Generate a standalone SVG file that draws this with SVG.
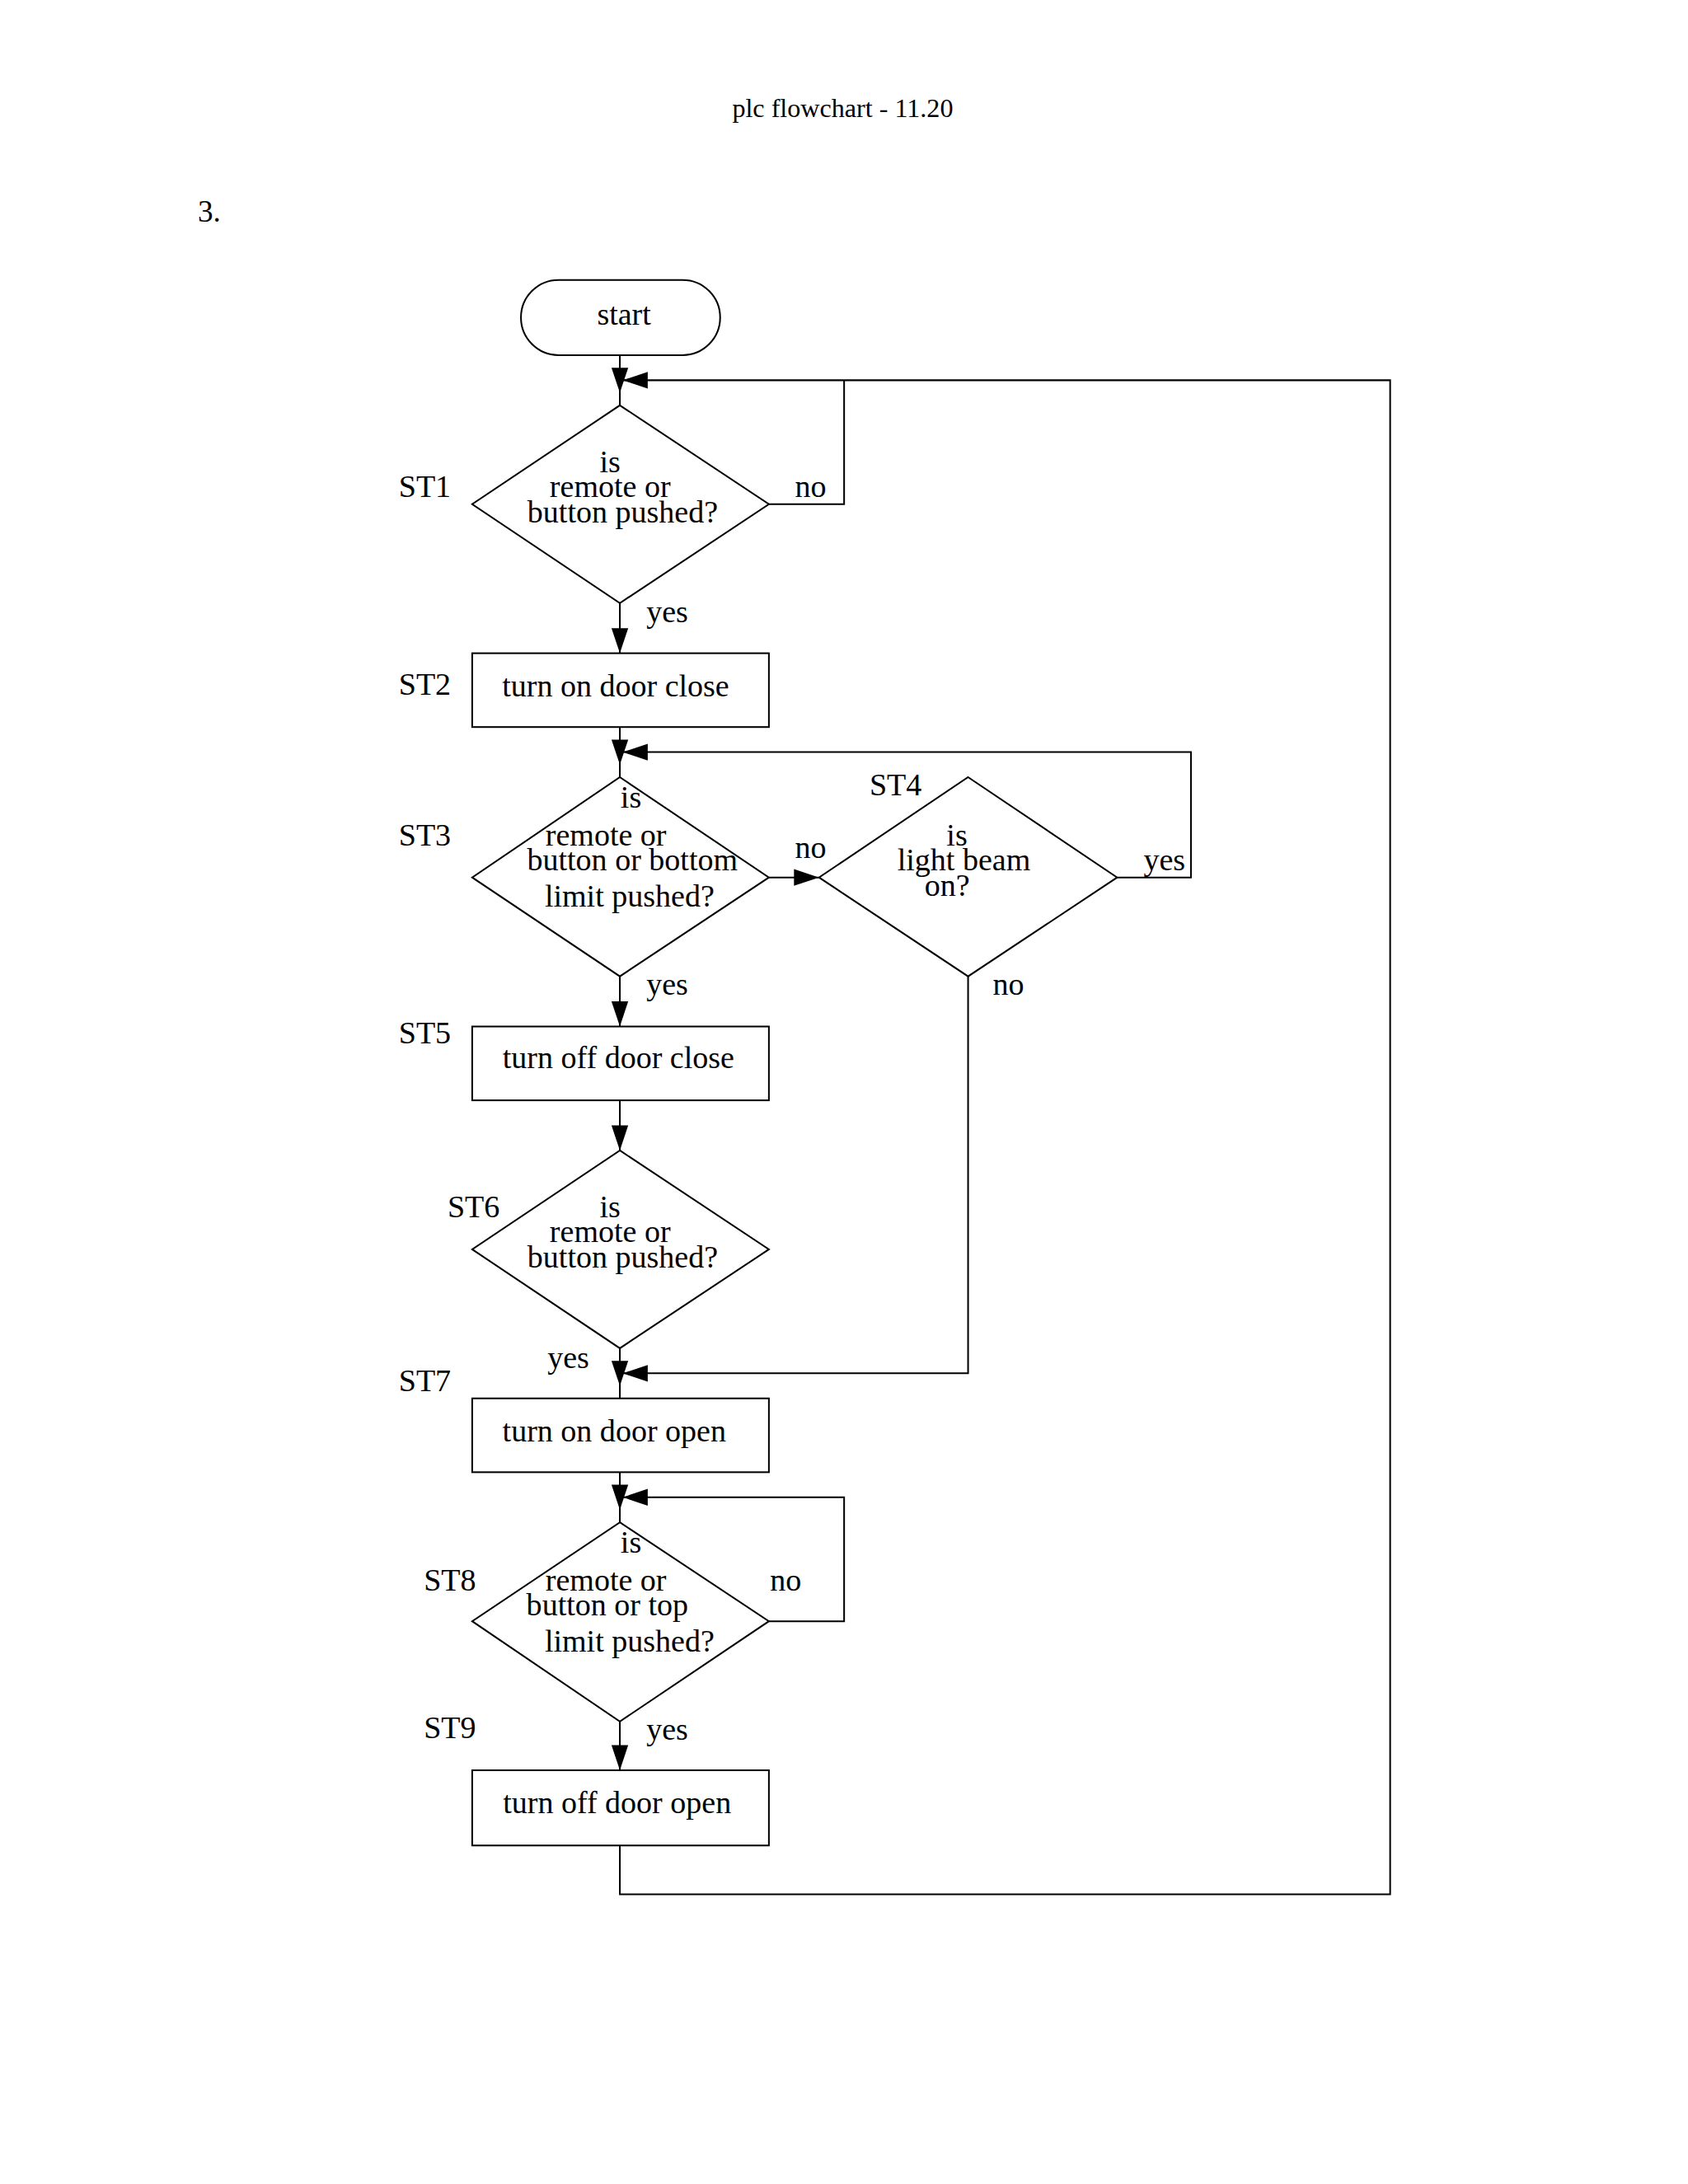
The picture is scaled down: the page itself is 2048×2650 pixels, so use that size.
<svg xmlns="http://www.w3.org/2000/svg" width="2048" height="2650" viewBox="0 0 2048 2650">
<style>
.s{fill:none;stroke:#000;stroke-width:1.2}
text{font-family:"Liberation Serif",serif;font-size:22.5px;fill:#000;text-anchor:middle}
.l{text-anchor:start}
</style>
<defs><path id="ah" d="M0,0 L-18,-6 L-18,6 Z" fill="#000"/></defs>
<rect width="2048" height="2650" fill="#fff"/>
<g transform="scale(1.69)">
<text x="605" y="84" style="font-size:19px">plc flowchart - 11.20</text>
<text x="142" y="159" class="l" style="font-size:22px">3.</text>
<g id="start"><rect class="s" x="374" y="201" width="143" height="54" rx="27"/><text x="448" y="233">start</text></g>
<g id="st1"><path class="s" d="M445,291 L552,362 L445,433 L339,362 Z"/><text x="438" y="339">is</text><text x="438" y="357">remote or</text><text x="447" y="375">button pushed?</text><text x="305" y="357">ST1</text></g>
<g id="st2"><rect class="s" x="339" y="469" width="213" height="53"/><text x="442" y="500">turn on door close</text><text x="305" y="499">ST2</text></g>
<g id="st3"><path class="s" d="M445,558 L552,630 L445,701 L339,630 Z"/><text x="453" y="580">is</text><text x="435" y="607">remote or</text><text x="454" y="625">button or bottom</text><text x="452" y="651">limit pushed?</text><text x="305" y="607">ST3</text></g>
<g id="st4"><path class="s" d="M695,558 L802,630 L695,701 L588,630 Z"/><text x="687" y="607">is</text><text x="692" y="625">light beam</text><text x="680" y="643">on?</text><text x="643" y="571">ST4</text></g>
<g id="st5"><rect class="s" x="339" y="737" width="213" height="53"/><text x="444" y="767">turn off door close</text><text x="305" y="749">ST5</text></g>
<g id="st6"><path class="s" d="M445,826 L552,897 L445,968 L339,897 Z"/><text x="438" y="874">is</text><text x="438" y="892">remote or</text><text x="447" y="910">button pushed?</text><text x="340" y="874">ST6</text></g>
<g id="st7"><rect class="s" x="339" y="1004" width="213" height="53"/><text x="441" y="1035">turn on door open</text><text x="305" y="999">ST7</text></g>
<g id="st8"><path class="s" d="M445,1093 L552,1164 L445,1236 L339,1164 Z"/><text x="453" y="1115">is</text><text x="435" y="1142">remote or</text><text x="436" y="1160">button or top</text><text x="452" y="1186">limit pushed?</text><text x="323" y="1142">ST8</text></g>
<g id="st9"><rect class="s" x="339" y="1271" width="213" height="54"/><text x="443" y="1302">turn off door open</text><text x="323" y="1248">ST9</text></g>
<g id="connectors">
<path class="s" d="M445,255 V291 M552,362 H606 V273 H447 M445,433 V469 M445,522 V558 M552,630 H588 M802,630 H855 V540 H447 M695,701 V986 H447 M445,701 V737 M445,790 V826 M445,968 V1004 M445,1057 V1093 M552,1164 H606 V1075 H447 M445,1236 V1271 M445,1325 V1360 H998 V273 H606"/>
<use href="#ah" transform="translate(445,282) rotate(90)"/><use href="#ah" transform="translate(447,273) rotate(180)"/>
<use href="#ah" transform="translate(445,469) rotate(90)"/>
<use href="#ah" transform="translate(445,549) rotate(90)"/><use href="#ah" transform="translate(447,540) rotate(180)"/>
<use href="#ah" transform="translate(588,630)"/>
<use href="#ah" transform="translate(445,737) rotate(90)"/>
<use href="#ah" transform="translate(445,826) rotate(90)"/>
<use href="#ah" transform="translate(445,995) rotate(90)"/><use href="#ah" transform="translate(447,986) rotate(180)"/>
<use href="#ah" transform="translate(445,1084) rotate(90)"/><use href="#ah" transform="translate(447,1075) rotate(180)"/>
<use href="#ah" transform="translate(445,1271) rotate(90)"/>
<text x="582" y="357">no</text><text x="479" y="447">yes</text>
<text x="582" y="616">no</text><text x="836" y="625">yes</text><text x="724" y="714">no</text><text x="479" y="714">yes</text>
<text x="408" y="982">yes</text><text x="564" y="1142">no</text><text x="479" y="1249">yes</text>
</g>
</g>
</svg>
